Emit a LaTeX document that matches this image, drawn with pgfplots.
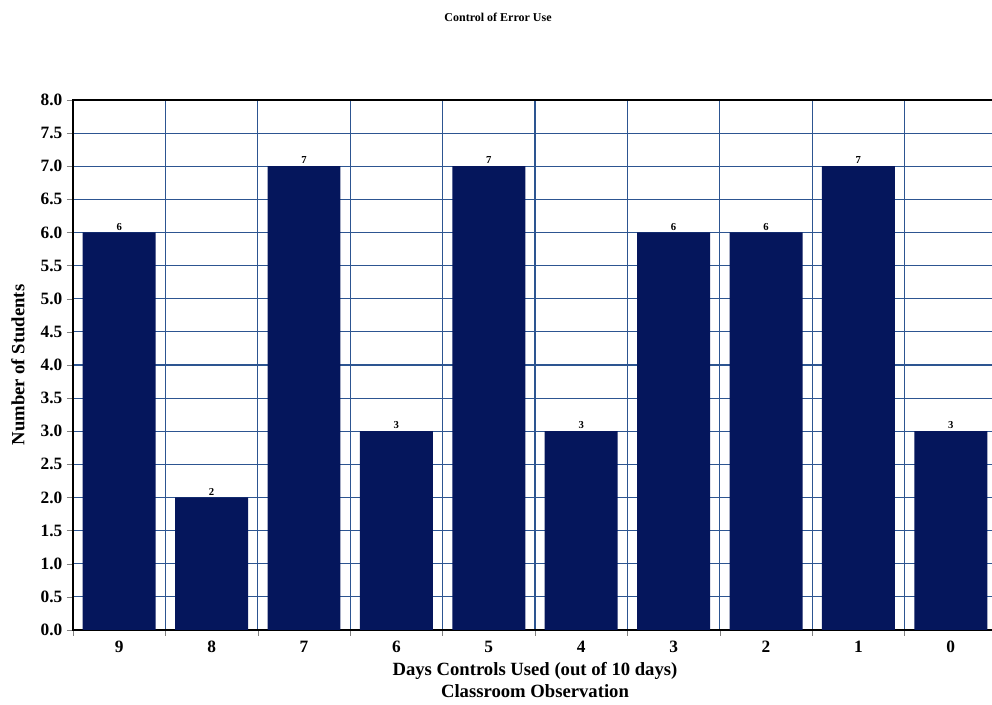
\documentclass[border=0pt]{standalone}
\usepackage{fontspec}
\setmainfont{Liberation Serif}
\usepackage{pgfplots}
\pgfplotsset{compat=1.18}
\definecolor{barnavy}{RGB}{5,22,92}
\definecolor{gridblue}{RGB}{45,85,145}

\begin{document}
\begin{tikzpicture}
\begin{axis}[
    at={(0,0)}, anchor=south west,
    scale only axis,
    width=693pt, height=397.5pt,
    ybar, bar width=0.79,
    xmin=-0.5, xmax=9.5,
    ymin=0, ymax=8,
    enlargelimits=false,
    xtick={0,...,9},
    xticklabels={9,8,7,6,5,4,3,2,1,0},
    minor xtick={-0.5,0.5,...,9.5},
    ytick={0,0.5,...,8},
    yticklabel style={/pgf/number format/.cd, fixed, fixed zerofill, precision=1},
    /pgf/number format/assume math mode=true,
    tick align=outside,
    major tick length=4.5pt,
    minor tick length=4.5pt,
    major x tick style={draw=none},
    xtick pos=bottom, ytick pos=left,
    ticklabel style={font=\bfseries\fontsize{13}{13}\selectfont},
    xminorgrids=true, ymajorgrids=true,
    grid style={draw=gridblue, line width=0.9pt},
    minor grid style={draw=gridblue, line width=0.9pt},
    axis line style={black, line width=1.6pt},
    title={Control of Error Use},
    title style={font=\bfseries\fontsize{9}{9}\selectfont, at={(axis description cs:0.46,1)}, anchor=center, yshift=56pt},
    xlabel={Days Controls Used (out of 10 days)\\Classroom Observation},
    xlabel style={font=\bfseries\fontsize{14}{16.5}\selectfont, align=center, at={(axis description cs:0.5,0)}, anchor=north, yshift=-21pt},
    ylabel={Number of Students},
    ylabel style={font=\bfseries\fontsize{14}{14}\selectfont, at={(axis description cs:-0.0595,0.5)}, anchor=center},
    nodes near coords,
    every node near coord/.append style={font=\bfseries\fontsize{8}{8}\selectfont, black, inner sep=1.5pt},
]
\addplot[fill=barnavy, draw=none] coordinates {
    (0,6) (1,2) (2,7) (3,3) (4,7) (5,3) (6,6) (7,6) (8,7) (9,3)
};
\end{axis}
\pgfresetboundingbox
\path (-54.75pt,-56.25pt) rectangle (689.25pt,472.5pt);
\end{tikzpicture}
\end{document}
